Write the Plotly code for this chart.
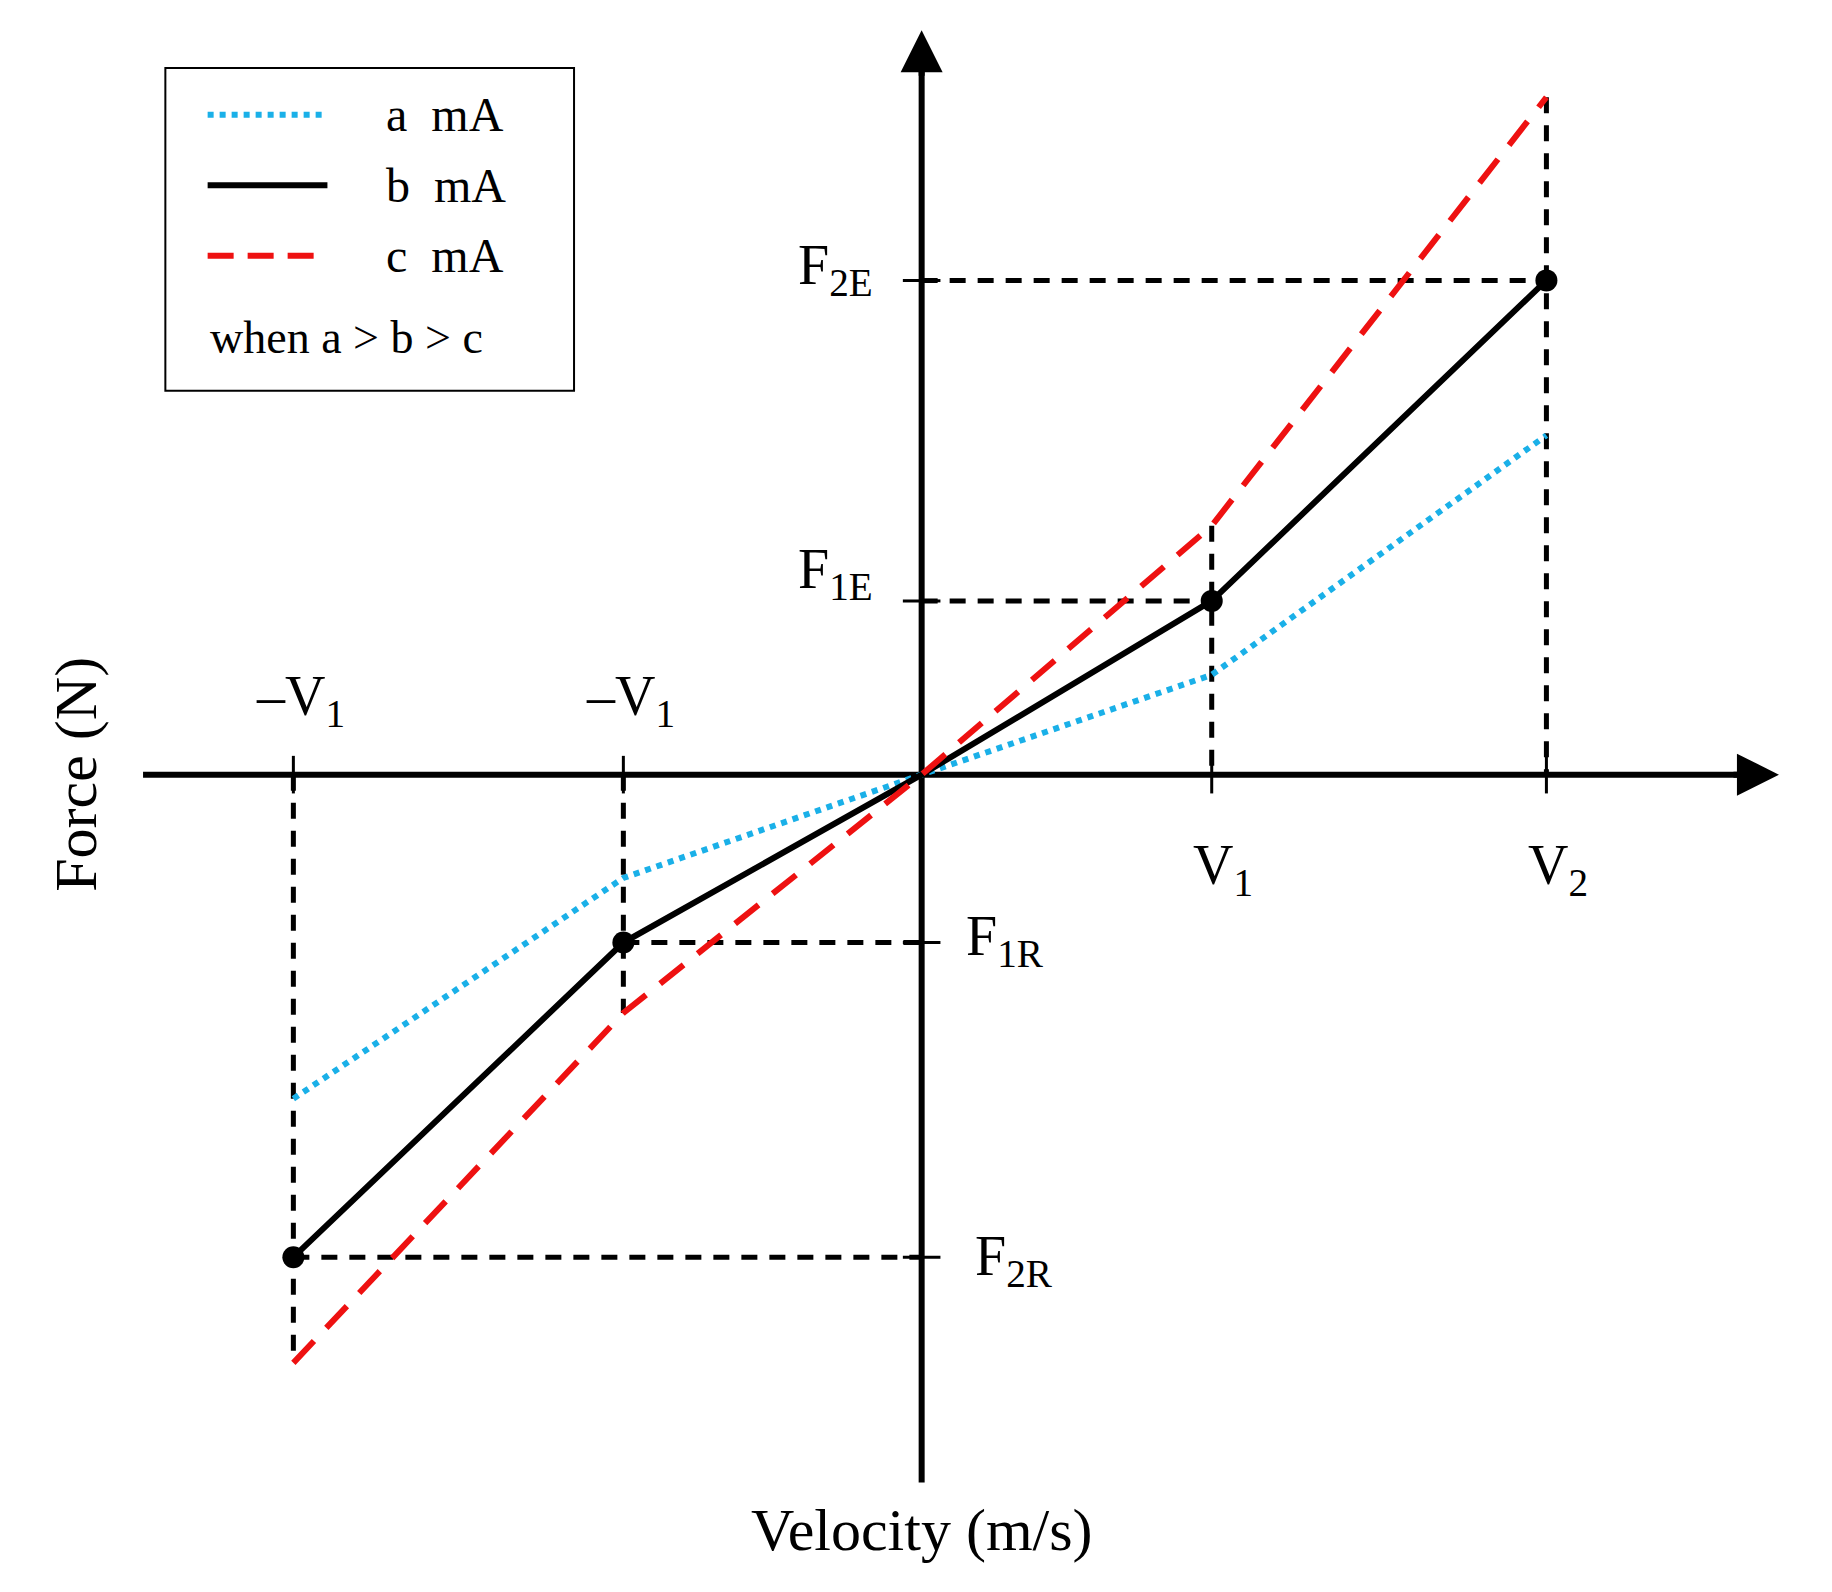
import plotly.graph_objects as go

# data coordinates (arbitrary units, origin at axis crossing)
V = [-535, -254, 0, 247, 532]
force_a = [-276, -88, 0, 85, 289]
force_b = [-411, -143, 0, 148, 421]
force_c = [-501, -203, 0, 212, 577]
series_names = ["a  mA", "b  mA", "c  mA"]
x_tick_labels = ["–V<sub>1</sub>", "–V<sub>1</sub>", "V<sub>1</sub>", "V<sub>2</sub>"]
y_tick_vals = [421, 148, -143, -411]
y_tick_labels = ["F<sub>2E</sub>", "F<sub>1E</sub>", "F<sub>1R</sub>", "F<sub>2R</sub>"]

FONT = "Liberation Serif"
fig = go.Figure()
styles = [dict(color="#1ab0e8", width=6, dash="dot"),
          dict(color="black", width=6),
          dict(color="#ee1111", width=6, dash="30px,18px")]
for ys, st, nm in zip([force_a, force_b, force_c], styles, series_names):
    fig.add_trace(go.Scatter(x=V, y=ys, mode="lines", line=st, name=nm, showlegend=False))
fig.add_trace(go.Scatter(x=[V[0], V[1], V[3], V[4]], y=[force_b[0], force_b[1], force_b[3], force_b[4]],
                         mode="markers", marker=dict(color="black", size=22), showlegend=False))

shapes = []
def seg(x0, y0, x1, y1, dash="16px,12px", w=5):
    shapes.append(dict(type="line", x0=x0, y0=y0, x1=x1, y1=y1,
                       line=dict(color="black", width=w, dash=dash), layer="below"))

# guide lines
seg(0, force_b[4], V[4], force_b[4]); seg(V[4], force_c[4], V[4], 0)
seg(0, force_b[3], V[3], force_b[3]); seg(V[3], force_c[3], V[3], 0)
seg(V[1], force_b[1], 0, force_b[1]); seg(V[1], 0, V[1], force_c[1])
seg(V[0], force_b[0], 0, force_b[0]); seg(V[0], 0, V[0], force_c[0])
# axes
seg(-663, 0, 700, 0, dash="solid", w=6)
seg(0, -603, 0, 600, dash="solid", w=6)
# ticks
for xv in [V[0], V[1], V[3], V[4]]:
    seg(xv, -16, xv, 16, dash="solid", w=3)
for yv in y_tick_vals:
    seg(-16, yv, 16, yv, dash="solid", w=3)
# legend box
shapes.append(dict(type="rect", x0=-644, y0=327, x1=-296, y1=602, line=dict(color="black", width=2)))
for yy, st in zip([562, 502, 442], styles):
    st2 = dict(st); 
    if st2.get("dash") == "30px,18px": st2["dash"] = "26px,14px"
    shapes.append(dict(type="line", x0=-608, x1=-506, y0=yy, y1=yy, line=st2))

ann = []
def txt(x, y, t, size=56, xanchor="center", angle=0):
    ann.append(dict(x=x, y=y, text=t, showarrow=False, xanchor=xanchor, yanchor="middle",
                    textangle=angle, font=dict(family=FONT, size=size, color="black")))

for xv, lab in zip([V[0], V[1]], x_tick_labels[:2]):
    txt(xv + 6, 64, lab)
for xv, lab in zip([V[3], V[4]], x_tick_labels[2:]):
    txt(xv + 10, -80, lab)
txt(-40, y_tick_vals[0] + 10, y_tick_labels[0], xanchor="right")
txt(-40, y_tick_vals[1] + 24, y_tick_labels[1], xanchor="right")
txt(36, y_tick_vals[2] + 2, y_tick_labels[2], xanchor="left")
txt(44, y_tick_vals[3] - 2, y_tick_labels[3], xanchor="left")
txt(0, -643, "Velocity (m/s)", size=60)
txt(-720, 0, "Force (N)", size=60, angle=-90)
for yy, nm in zip([562, 502, 442], series_names):
    txt(-458, yy, nm, size=48, xanchor="left")
txt(-608, 372, "when a &gt; b &gt; c", size=46, xanchor="left")
# arrowheads
ann.append(dict(x=730, y=0, ax=690, ay=0, axref="x", ayref="y", xref="x", yref="y", text="",
                showarrow=True, arrowhead=2, arrowsize=1.4, arrowwidth=6, arrowcolor="black"))
ann.append(dict(x=0, y=634, ax=0, ay=594, axref="x", ayref="y", xref="x", yref="y", text="",
                showarrow=True, arrowhead=2, arrowsize=1.4, arrowwidth=6, arrowcolor="black"))

fig.update_layout(width=1832, height=1592, margin=dict(l=0, r=0, t=0, b=0),
                  paper_bgcolor="white", plot_bgcolor="white",
                  xaxis=dict(range=[-778, 782], visible=False),
                  yaxis=dict(range=[-703, 653], visible=False),
                  shapes=shapes, annotations=ann)
fig.write_html("out.html")
